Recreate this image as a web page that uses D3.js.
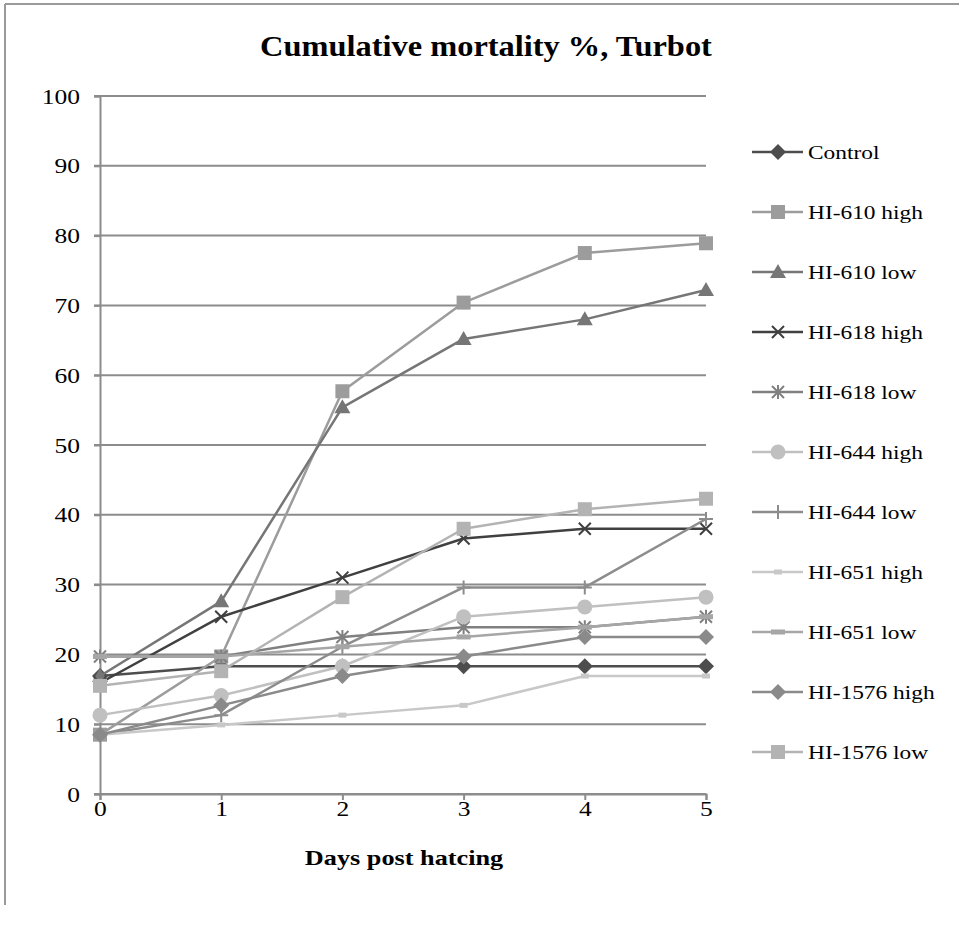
<!DOCTYPE html>
<html>
<head>
<meta charset="utf-8">
<script src="https://cdn.jsdelivr.net/npm/d3@7"></script>
<style>
  html, body { margin: 0; padding: 0; background: #fff; }
  svg { display: block; }
  text { font-family: "Liberation Serif", "Times New Roman", serif; fill: #000; }
</style>
</head>
<body>
<svg id="chart" width="959" height="929" font-family="Liberation Serif"></svg>
<script>
// ---- data ----
const days = [0, 1, 2, 3, 4, 5];
const yTicks = [0, 10, 20, 30, 40, 50, 60, 70, 80, 90, 100];
const seriesNames = ["Control", "HI-610 high", "HI-610 low", "HI-618 high", "HI-618 low",
  "HI-644 high", "HI-644 low", "HI-651 high", "HI-651 low", "HI-1576 high", "HI-1576 low"];
const control    = [16.9, 18.3, 18.3, 18.3, 18.3, 18.3];
const hi610high  = [8.5, 19.7, 57.7, 70.4, 77.5, 78.9];
const hi610low   = [16.9, 27.6, 55.4, 65.2, 68.0, 72.2];
const hi618high  = [15.9, 25.4, 31.0, 36.6, 38.0, 38.0];
const hi618low   = [19.7, 19.7, 22.5, 23.9, 23.9, 25.4];
const hi644high  = [11.3, 14.1, 18.3, 25.4, 26.8, 28.2];
const hi644low   = [8.5, 11.3, 21.1, 29.6, 29.6, 39.4];
const hi651high  = [8.5, 9.9, 11.3, 12.7, 16.9, 16.9];
const hi651low   = [19.7, 19.7, 21.1, 22.5, 23.9, 25.4];
const hi1576high = [8.5, 12.7, 16.9, 19.7, 22.5, 22.5];
const hi1576low  = [15.5, 17.6, 28.2, 38.0, 40.8, 42.3];
const seriesValues = [control, hi610high, hi610low, hi618high, hi618low,
  hi644high, hi644low, hi651high, hi651low, hi1576high, hi1576low];

// ---- styles ----
const colors = ["#4d4d4d", "#9c9c9c", "#767676", "#404040", "#808080",
  "#c0c0c0", "#8c8c8c", "#c8c8c8", "#a6a6a6", "#8a8a8a", "#b3b3b3"];
const markers = ["diamond", "square", "triangle", "x", "asterisk",
  "circle", "plus", "dashS", "dashL", "diamond", "square"];

const svg = d3.select("#chart");
const x = d3.scaleLinear().domain([0, 5]).range([100, 706]);
const y = d3.scaleLinear().domain([0, 100]).range([794, 96]);
const gridColor = "#8c8c8c";
const serif = "'Liberation Serif', 'Times New Roman', serif";

// chart frame (top and left edges visible)
svg.append("line").attr("x1", 5).attr("x2", 959).attr("y1", 4).attr("y2", 4)
  .attr("stroke", "#9a9a9a").attr("stroke-width", 2);
svg.append("line").attr("x1", 5).attr("x2", 5).attr("y1", 4).attr("y2", 905)
  .attr("stroke", "#9a9a9a").attr("stroke-width", 2);

// title
svg.append("text").attr("transform", "translate(486,56) scale(1.08,1)")
  .attr("text-anchor", "middle")
  .style("font-family", serif).style("font-weight", "bold").style("font-size", "30px")
  .text("Cumulative mortality %, Turbot");

// gridlines
svg.append("g").selectAll("line").data(yTicks).join("line")
  .attr("x1", x(0) - 6).attr("x2", x(5))
  .attr("y1", d => y(d)).attr("y2", d => y(d))
  .attr("stroke", gridColor).attr("stroke-width", 2);

// y axis
const yAxis = svg.append("g").attr("transform", `translate(${x(0)},0)`)
  .call(d3.axisLeft(y).tickValues(yTicks).tickSize(6).tickPadding(12));
yAxis.select(".domain").attr("stroke", gridColor).attr("stroke-width", 2);
yAxis.selectAll(".tick line").attr("stroke", gridColor).attr("stroke-width", 2);
yAxis.selectAll(".tick text")
  .attr("x", 0).attr("transform", "translate(-20,0) scale(1.16,1)")
  .style("font-size", "22px").style("font-family", serif).attr("fill", "#000");

// x axis
const xAxis = svg.append("g").attr("transform", `translate(0,${y(0)})`)
  .call(d3.axisBottom(x).tickValues(days).tickFormat(d3.format("d")).tickSize(6).tickPadding(0));
xAxis.select(".domain").attr("stroke", gridColor).attr("stroke-width", 2);
xAxis.selectAll(".tick line").attr("stroke", gridColor).attr("stroke-width", 2);
xAxis.selectAll(".tick text")
  .attr("transform", "scale(1.16,1)")
  .style("font-size", "22px").style("font-family", serif).attr("fill", "#000");

// x axis title
svg.append("text").attr("transform", "translate(404,865) scale(1.25,1)")
  .attr("text-anchor", "middle")
  .style("font-family", serif).style("font-weight", "bold").style("font-size", "21px")
  .text("Days post hatcing");

// marker drawing
function drawMarker(g, type, cx, cy, color) {
  switch (type) {
    case "diamond":
      g.append("path").attr("d", `M${cx},${cy - 8}L${cx + 8},${cy}L${cx},${cy + 8}L${cx - 8},${cy}Z`)
        .attr("fill", color); break;
    case "square":
      g.append("rect").attr("x", cx - 7).attr("y", cy - 7).attr("width", 14).attr("height", 14)
        .attr("fill", color); break;
    case "triangle":
      g.append("path").attr("d", `M${cx},${cy - 8}L${cx + 8},${cy + 6}L${cx - 8},${cy + 6}Z`)
        .attr("fill", color); break;
    case "circle":
      g.append("circle").attr("cx", cx).attr("cy", cy).attr("r", 7.5).attr("fill", color); break;
    case "x":
      g.append("path").attr("d", `M${cx - 6},${cy - 6}L${cx + 6},${cy + 6}M${cx - 6},${cy + 6}L${cx + 6},${cy - 6}`)
        .attr("stroke", color).attr("stroke-width", 2).attr("fill", "none"); break;
    case "asterisk":
      g.append("path").attr("d", `M${cx - 6},${cy - 6}L${cx + 6},${cy + 6}M${cx - 6},${cy + 6}L${cx + 6},${cy - 6}M${cx},${cy - 7}L${cx},${cy + 7}`)
        .attr("stroke", color).attr("stroke-width", 2).attr("fill", "none"); break;
    case "plus":
      g.append("path").attr("d", `M${cx},${cy - 7}L${cx},${cy + 7}M${cx - 7},${cy}L${cx + 7},${cy}`)
        .attr("stroke", color).attr("stroke-width", 2).attr("fill", "none"); break;
    case "dashS":
      g.append("rect").attr("x", cx - 4).attr("y", cy - 2.5).attr("width", 8).attr("height", 5)
        .attr("fill", color); break;
    case "dashL":
      g.append("rect").attr("x", cx - 7).attr("y", cy - 2.5).attr("width", 14).attr("height", 5)
        .attr("fill", color); break;
  }
}

// series
const line = d3.line().x((d, i) => x(days[i])).y(d => y(d));
seriesValues.forEach((vals, s) => {
  const g = svg.append("g");
  g.append("path").attr("d", line(vals)).attr("fill", "none")
    .attr("stroke", colors[s]).attr("stroke-width", 2.5).attr("stroke-linejoin", "round");
  vals.forEach((v, i) => drawMarker(g, markers[s], x(days[i]), y(v), colors[s]));
});

// legend
const legend = svg.append("g");
seriesNames.forEach((name, s) => {
  const ly = 152 + 60 * s;
  const g = legend.append("g");
  g.append("line").attr("x1", 752).attr("x2", 803).attr("y1", ly).attr("y2", ly)
    .attr("stroke", colors[s]).attr("stroke-width", 2.5);
  drawMarker(g, markers[s], 778, ly, colors[s]);
  g.append("text").attr("transform", `translate(808,${ly + 7}) scale(1.2,1)`)
    .style("font-family", serif).style("font-size", "19.5px").text(name);
});
</script>
</body>
</html>
